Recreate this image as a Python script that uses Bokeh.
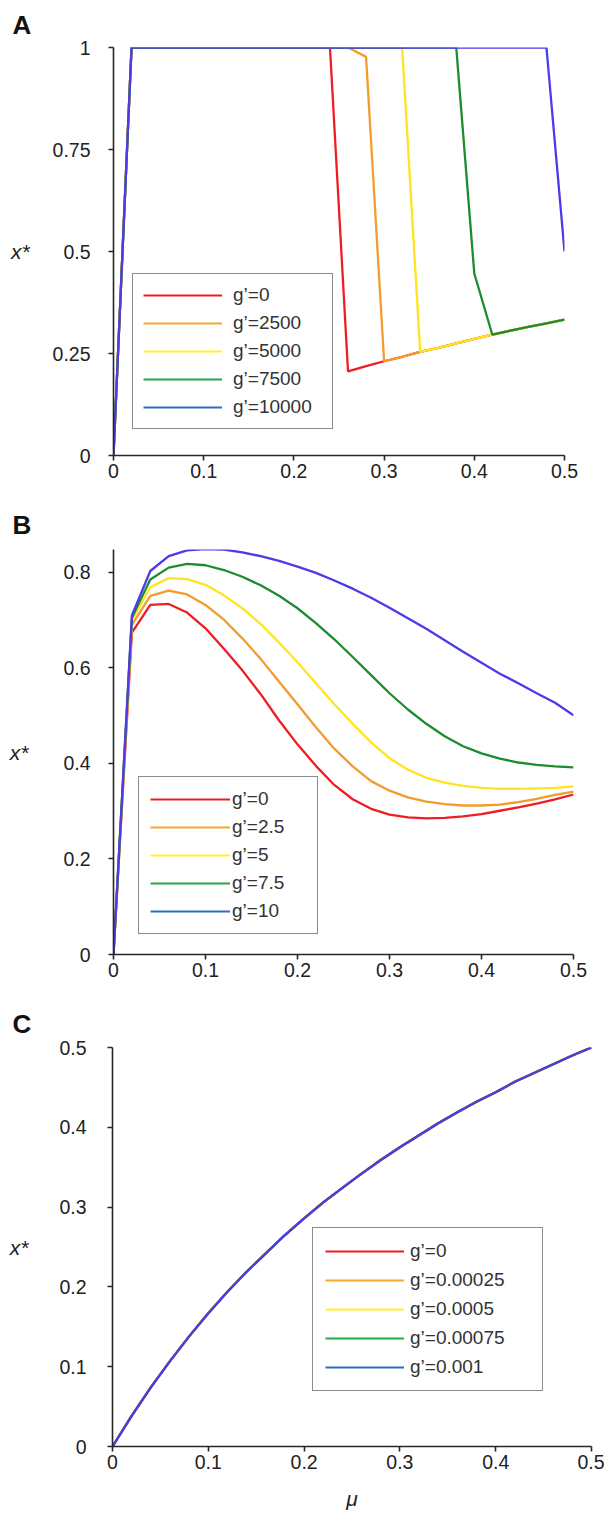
from bokeh.plotting import figure
from bokeh.layouts import column
from bokeh.models import FixedTicker, Legend, LegendItem
from bokeh.embed import file_html
from bokeh.resources import INLINE

FONT = "Liberation Sans"
NAN = float("nan")

# ---------------- data ----------------
mu = [0.00, 0.02, 0.04, 0.06, 0.08, 0.10, 0.12, 0.14, 0.16, 0.18, 0.20, 0.22, 0.24,
      0.26, 0.28, 0.30, 0.32, 0.34, 0.36, 0.38, 0.40, 0.42, 0.44, 0.46, 0.48, 0.50]

# Panel A
a_labels = ["g’=0", "g’=2500", "g’=5000", "g’=7500", "g’=10000"]
a_g0 = [0, 1, 1, 1, 1, 1, 1, 1, 1, 1, 1, 1, 1,
        0.206, 0.219, 0.231, 0.242, 0.254, 0.264, 0.275, 0.286, 0.296, 0.306, 0.315, 0.324, 0.333]
a_g2500 = [0, 1, 1, 1, 1, 1, 1, 1, 1, 1, 1, 1, 1,
           1, 0.977, 0.231, 0.242, 0.254, 0.264, 0.275, 0.286, 0.296, 0.306, 0.315, 0.324, 0.333]
a_g5000 = [0, 1, 1, 1, 1, 1, 1, 1, 1, 1, 1, 1, 1,
           1, 1, 1, 1, 0.254, 0.264, 0.275, 0.286, 0.296, 0.306, 0.315, 0.324, 0.333]
a_g7500 = [0, 1, 1, 1, 1, 1, 1, 1, 1, 1, 1, 1, 1,
           1, 1, 1, 1, 1, 1, 1, 0.446, 0.296, 0.306, 0.315, 0.324, 0.333]
a_g10000 = [0, 1, 1, 1, 1, 1, 1, 1, 1, 1, 1, 1, 1,
            1, 1, 1, 1, 1, 1, 1, 1, 1, 1, 1, 1, 0.500]

# Panel B
b_labels = ["g’=0", "g’=2.5", "g’=5", "g’=7.5", "g’=10"]
b_g0 = [0, 0.674, 0.732, 0.734, 0.716, 0.683, 0.640, 0.595, 0.545, 0.490, 0.440, 0.395, 0.355,
        0.325, 0.305, 0.293, 0.287, 0.285, 0.286, 0.289, 0.294, 0.301, 0.308, 0.316, 0.325, 0.335]
b_g2_5 = [0, 0.690, 0.751, 0.762, 0.754, 0.732, 0.701, 0.662, 0.619, 0.571, 0.524, 0.476, 0.431,
          0.394, 0.363, 0.343, 0.329, 0.320, 0.315, 0.312, 0.312, 0.314, 0.319, 0.326, 0.334, 0.341]
b_g5 = [0, 0.700, 0.769, 0.788, 0.786, 0.774, 0.752, 0.725, 0.692, 0.653, 0.612, 0.568, 0.524,
        0.483, 0.444, 0.411, 0.387, 0.370, 0.360, 0.353, 0.349, 0.347, 0.347, 0.348, 0.349, 0.352]
b_g7_5 = [0, 0.705, 0.785, 0.810, 0.818, 0.815, 0.805, 0.791, 0.773, 0.751, 0.725, 0.694, 0.660,
          0.623, 0.585, 0.547, 0.513, 0.483, 0.457, 0.436, 0.421, 0.410, 0.402, 0.397, 0.394, 0.392]
b_g10 = [0, 0.710, 0.803, 0.834, 0.846, 0.849, 0.848, 0.842, 0.834, 0.824, 0.812, 0.799, 0.783,
         0.766, 0.747, 0.726, 0.704, 0.682, 0.658, 0.634, 0.611, 0.588, 0.568, 0.547, 0.527, 0.501]

# Panel C (all five curves coincide)
c_labels = ["g’=0", "g’=0.00025", "g’=0.0005", "g’=0.00075", "g’=0.001"]
c_curve = [0, 0.0385, 0.0741, 0.107, 0.138, 0.167, 0.194, 0.219, 0.242, 0.265, 0.286, 0.306, 0.324,
           0.342, 0.359, 0.375, 0.390, 0.405, 0.419, 0.432, 0.444, 0.457, 0.468, 0.479, 0.490, 0.500]

# ticks
x_ticks = [0, 0.1, 0.2, 0.3, 0.4, 0.5]
x_tick_labels = ["0", "0.1", "0.2", "0.3", "0.4", "0.5"]
a_y_ticks = [0, 0.25, 0.5, 0.75, 1]
a_y_tick_labels = ["0", "0.25", "0.5", "0.75", "1"]
b_y_ticks = [0, 0.2, 0.4, 0.6, 0.8]
b_y_tick_labels = ["0", "0.2", "0.4", "0.6", "0.8"]
c_y_ticks = [0, 0.1, 0.2, 0.3, 0.4, 0.5]
c_y_tick_labels = ["0", "0.1", "0.2", "0.3", "0.4", "0.5"]

# ---------------- styles ----------------
line_colors = ["#ee1d23", "#f39c2d", "#ffe41f", "#1c8c2e", "#4b3be8"]
legend_colors = ["#ed1c24", "#f5a72e", "#fff22a", "#25a84a", "#2a6fc0"]
AXIS_COLOR = "#262626"
TEXT_COLOR = "#222222"


def make_fig(letter, width, height, left, right, top, bottom, y_end, title_standoff):
    p = figure(width=width, height=height, x_range=(0, 0.5), y_range=(0, y_end),
               output_backend="svg", toolbar_location=None,
               min_border_left=left, min_border_right=right,
               min_border_top=top, min_border_bottom=bottom)
    p.frame_align = False
    p.outline_line_color = None
    p.xgrid.visible = False
    p.ygrid.visible = False
    p.background_fill_color = "white"
    p.border_fill_color = "white"
    p.title.text = letter
    p.title.align = "left"
    p.title.offset = 12 - left
    p.title.standoff = title_standoff
    p.title.text_font = FONT
    p.title.text_font_size = "26px"
    p.title.text_font_style = "bold"
    p.title.text_color = "#111111"
    for ax in (p.xaxis, p.yaxis):
        ax.axis_line_color = AXIS_COLOR
        ax.axis_line_width = 1.6
        ax.major_tick_line_color = AXIS_COLOR
        ax.major_tick_line_width = 1.6
        ax.major_tick_in = 0
        ax.major_tick_out = 5
        ax.minor_tick_line_color = None
        ax.major_label_text_font = FONT
        ax.major_label_text_font_size = "19.5px"
        ax.major_label_text_color = TEXT_COLOR
        ax.axis_label_text_font = FONT
        ax.axis_label_text_font_size = "21px"
        ax.axis_label_text_font_style = "italic"
        ax.axis_label_text_color = TEXT_COLOR
    p.xaxis.major_label_standoff = 3
    return p


def set_ticks(axis, ticks, labels):
    axis.ticker = FixedTicker(ticks=ticks)
    axis.major_label_overrides = {t: l for t, l in zip(ticks, labels)}


def add_legend(p, labels, loc, padding, glyph_w, standoff, label_w, spacing):
    items = []
    for lab, col in zip(labels, legend_colors):
        # swatch-only renderer (draws nothing in the plot area)
        r = p.line(x=[NAN], y=[NAN], line_color=col, line_width=2.2)
        items.append(LegendItem(label=lab, renderers=[r]))
    lg = Legend(items=items, location=loc, margin=0, padding=padding,
                glyph_width=glyph_w, glyph_height=22, label_height=22,
                label_width=label_w, label_standoff=standoff, spacing=spacing,
                border_line_color="#1a1a1a", border_line_width=1.6,
                background_fill_color="white", background_fill_alpha=1.0,
                label_text_font=FONT, label_text_font_size="19px",
                label_text_color="#333333")
    p.add_layout(lg)


# ---------------- Panel A ----------------
pa = make_fig("A", 604, 498, 113, 40, 40, 43, 1.0, 15)
set_ticks(pa.xaxis, x_ticks, x_tick_labels)
set_ticks(pa.yaxis, a_y_ticks, a_y_tick_labels)
pa.yaxis.axis_label = "x*"
pa.yaxis.axis_label_orientation = "horizontal"
pa.yaxis.major_label_standoff = 18
pa.yaxis.axis_label_standoff = 20
for ys, col in zip([a_g0, a_g2500, a_g5000, a_g7500, a_g10000], line_colors):
    pa.line(mu, ys, line_color=col, line_width=2.3)
add_legend(pa, a_labels, (19, 26), 10, 79, 11, 89, 6)

# ---------------- Panel B ----------------
pb = make_fig("B", 604, 500, 113, 31, 42, 44, 0.848, 19)
set_ticks(pb.xaxis, x_ticks, x_tick_labels)
set_ticks(pb.yaxis, b_y_ticks, b_y_tick_labels)
pb.yaxis.axis_label = "x*"
pb.yaxis.axis_label_orientation = "horizontal"
pb.yaxis.major_label_standoff = 18
pb.yaxis.axis_label_standoff = 32
for ys, col in zip([b_g0, b_g2_5, b_g5, b_g7_5, b_g10], line_colors):
    pb.line(mu, ys, line_color=col, line_width=2.3)
add_legend(pb, b_labels, (25, 20), 11, 80, 2, 74, 6)

# ---------------- Panel C ----------------
pc = make_fig("C", 604, 519, 112, 13, 44, 71, 0.5, 17)
set_ticks(pc.xaxis, x_ticks, x_tick_labels)
set_ticks(pc.yaxis, c_y_ticks, c_y_tick_labels)
pc.yaxis.axis_label = "x*"
pc.yaxis.axis_label_orientation = "horizontal"
pc.yaxis.major_label_standoff = 21
pc.yaxis.axis_label_standoff = 28
pc.xaxis.axis_label = "μ"
pc.xaxis.axis_label_standoff = 15
for col in line_colors:
    pc.line(mu, c_curve, line_color=col, line_width=2.3)
add_legend(pc, c_labels, (200, 55), 12, 79, 6, 120, 7)

layout = column(pa, pb, pc)
open("out.html", "w").write(file_html(layout, INLINE))
